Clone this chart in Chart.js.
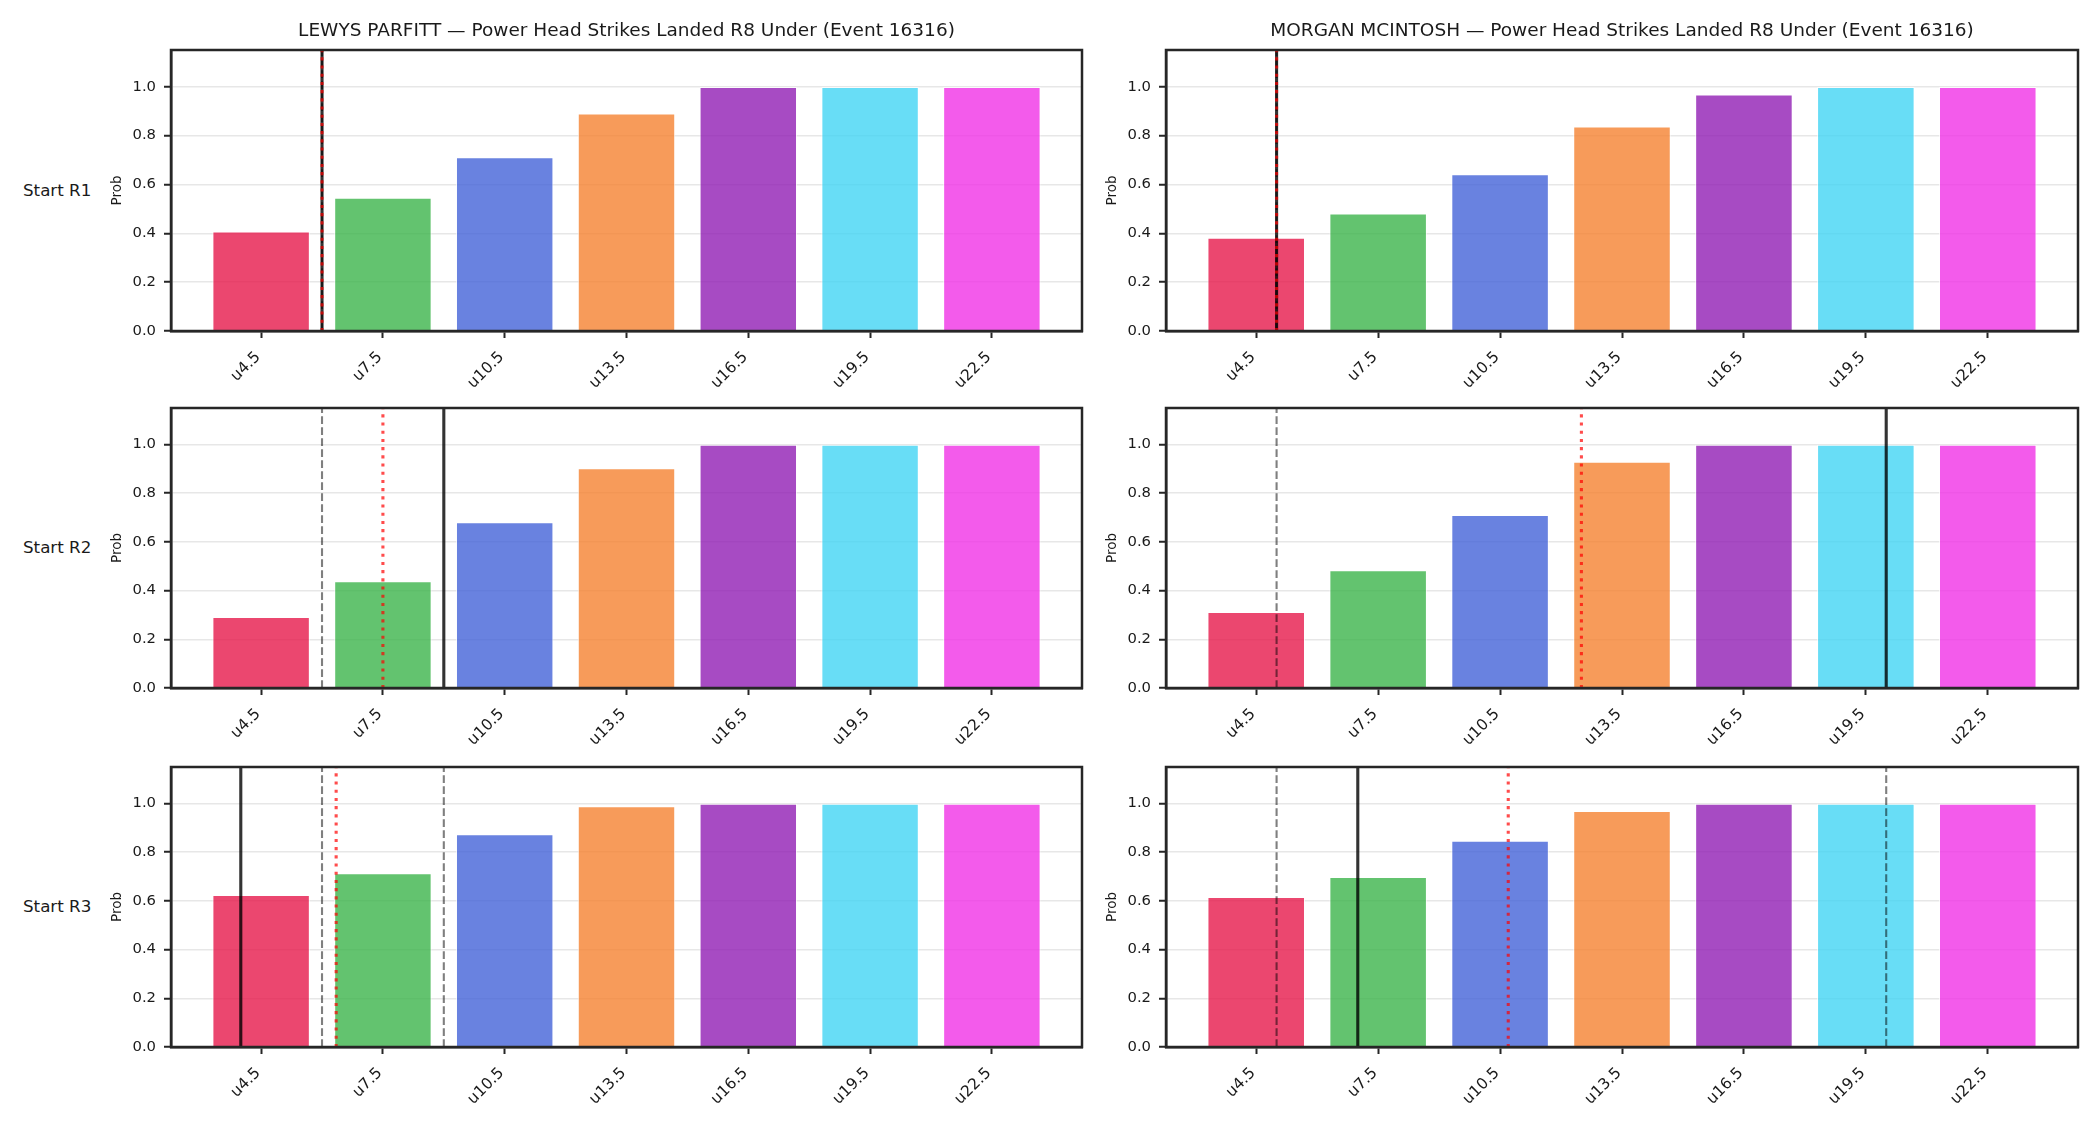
<!DOCTYPE html>
<html>
<head>
<meta charset="utf-8">
<script src="https://cdn.jsdelivr.net/npm/chart.js@4.4.1/dist/chart.umd.min.js"></script>
<style>
  html, body { margin: 0; padding: 0; background: #fff; }
  body { width: 2100px; height: 1125px; position: relative; overflow: hidden; font-family: "DejaVu Sans", sans-serif; }
  canvas { position: absolute; }
  .row-label { position: absolute; font-size: 16.7px; line-height: 20px; color: #1a1a1a; white-space: nowrap; }
</style>
</head>
<body>
<script>
/* global Chart */

// ---------------------- Data ----------------------

const CATEGORIES = ["u4.5", "u7.5", "u10.5", "u13.5", "u16.5", "u19.5", "u22.5"];
const Y_TICKS = [0, 0.2, 0.4, 0.6, 0.8, 1.0];
const ROW_LABELS = ["Start R1", "Start R2", "Start R3"];
const PLAYERS = ["LEWYS PARFITT", "MORGAN MCINTOSH"];
const MARKET = "Power Head Strikes Landed R8 Under (Event 16316)";

const BAR_COLORS = [
  "rgba(230, 25, 75, 0.8)",
  "rgba(60, 180, 75, 0.8)",
  "rgba(67, 99, 216, 0.8)",
  "rgba(245, 130, 49, 0.8)",
  "rgba(145, 30, 180, 0.8)",
  "rgba(66, 212, 244, 0.8)",
  "rgba(240, 50, 230, 0.8)"
];

const PARFITT_R1 = [0.407, 0.545, 0.711, 0.890, 0.999, 0.999, 0.999];
const PARFITT_R2 = [0.292, 0.438, 0.681, 0.903, 0.999, 0.999, 0.999];
const PARFITT_R3 = [0.624, 0.714, 0.874, 0.989, 0.999, 0.999, 0.999];

const MCINTOSH_R1 = [0.382, 0.481, 0.641, 0.837, 0.968, 0.999, 0.999];
const MCINTOSH_R2 = [0.312, 0.484, 0.711, 0.929, 0.999, 0.999, 0.999];
const MCINTOSH_R3 = [0.616, 0.698, 0.847, 0.969, 0.999, 0.999, 0.999];

// vertical markers per start round, in category-index units on the x axis
const PARFITT_SOLID = [0.5, 1.5, -0.167];
const PARFITT_DOTTED = [0.5, 1.0, 0.616];
const PARFITT_DASHED = [[0.5], [0.5], [0.5, 1.5]];

const MCINTOSH_SOLID = [0.167, 5.167, 0.833];
const MCINTOSH_DOTTED = [0.167, 2.667, 2.067];
const MCINTOSH_DASHED = [[0.167], [0.167], [0.167, 5.167]];

// ---------------------- Layout & style ----------------------

const COLS = [[171, 1082], [1166, 2078]];
const ROWS = [[50, 331], [408, 688], [767, 1047]];
const Y_AXIS_W = 70;
const X_AXIS_H = 75;
const TOP_SPACE = 50;
const RIGHT_PAD = 8;

const SPINE = "#262626";
const TEXT = "#1a1a1a";
const GRID = "rgba(176, 176, 176, 0.3)";

Chart.defaults.font.family = "'DejaVu Sans', sans-serif";
Chart.defaults.color = TEXT;

// markers + full frame, drawn after grid so they sit on top like matplotlib lines
const markersPlugin = {
  id: "markers",
  afterDraw(chart, _args, opts) {
    const { ctx, chartArea: a, scales: { x } } = chart;
    ctx.save();
    ctx.beginPath();
    ctx.rect(a.left, a.top, a.width, a.height);
    ctx.clip();
    const vline = (v, color, width, dash) => {
      const px = x.getPixelForValue(v);
      ctx.strokeStyle = color;
      ctx.lineWidth = width;
      ctx.setLineDash(dash);
      ctx.beginPath();
      ctx.moveTo(px, a.bottom);
      ctx.lineTo(px, a.top);
      ctx.stroke();
    };
    (opts.dashed || []).forEach(v => vline(v, "rgba(0, 0, 0, 0.5)", 2.1, [7.7, 3.3]));
    vline(opts.solid, "rgba(0, 0, 0, 0.8)", 3.1, []);
    vline(opts.dotted, "rgba(255, 0, 0, 0.7)", 3.1, [3.1, 5.1]);
    ctx.restore();

    ctx.save();
    ctx.strokeStyle = SPINE;
    ctx.lineWidth = 2.5;
    ctx.setLineDash([]);
    ctx.strokeRect(a.left, a.top, a.width, a.height);
    ctx.restore();
  }
};

function makeCanvas(col, row) {
  const [x0, x1] = COLS[col];
  const [y0, y1] = ROWS[row];
  const c = document.createElement("canvas");
  const w = Y_AXIS_W + (x1 - x0) + RIGHT_PAD;
  const h = TOP_SPACE + (y1 - y0) + X_AXIS_H;
  c.width = w;
  c.height = h;
  c.style.left = (x0 - Y_AXIS_W) + "px";
  c.style.top = (y0 - TOP_SPACE) + "px";
  c.style.width = w + "px";
  c.style.height = h + "px";
  document.body.appendChild(c);
  return c;
}

function drawPanel(canvas, { values, title, solid, dotted, dashed }) {
  new Chart(canvas.getContext("2d"), {
    type: "bar",
    data: {
      datasets: [{
        data: values.map((v, i) => ({ x: i, y: v })),
        backgroundColor: BAR_COLORS,
        borderColor: "rgba(255, 255, 255, 0.7)",
        borderWidth: 1,
        barPercentage: 1,
        categoryPercentage: 0.8
      }]
    },
    options: {
      responsive: false,
      animation: false,
      devicePixelRatio: 1,
      layout: { padding: { top: title ? 0 : TOP_SPACE, right: RIGHT_PAD, left: 0, bottom: 0 } },
      plugins: {
        legend: { display: false },
        tooltip: { enabled: false },
        title: {
          display: !!title,
          text: title,
          fullSize: false,
          color: TEXT,
          font: { size: 18.5, weight: "normal" },
          padding: { top: 20.3, bottom: 7.5 }
        },
        markers: { solid, dotted, dashed }
      },
      scales: {
        x: {
          type: "linear",
          min: -0.74,
          max: 6.74,
          offset: false,
          afterFit: (s) => { s.height = X_AXIS_H; },
          afterBuildTicks: (s) => { s.ticks = CATEGORIES.map((_, i) => ({ value: i })); },
          ticks: {
            callback: (v) => CATEGORIES[v],
            autoSkip: false,
            maxRotation: 45,
            minRotation: 45,
            labelOffset: -3,
            padding: 10,
            font: { size: 15.5 },
            color: TEXT
          },
          grid: { drawOnChartArea: false, offset: false, tickLength: 7, tickWidth: 2, tickColor: SPINE },
          border: { color: SPINE, width: 2.5 }
        },
        y: {
          min: 0,
          max: 1.15,
          z: 1,
          afterFit: (s) => { s.width = Y_AXIS_W; },
          afterBuildTicks: (s) => { s.ticks = Y_TICKS.map(v => ({ value: v })); },
          ticks: { callback: (v) => v.toFixed(1), padding: 8, font: { size: 14.8 }, color: TEXT },
          grid: { color: GRID, lineWidth: 1.5, tickLength: 7, tickWidth: 2, tickColor: SPINE },
          border: { color: SPINE, width: 2.5 },
          title: { display: true, text: "Prob", color: TEXT, font: { size: 13.5 }, padding: { top: 8, bottom: 0 } }
        }
      }
    },
    plugins: [markersPlugin]
  });
}

// ---------------------- Build grid ----------------------

const PANELS = [
  [
    { values: PARFITT_R1, solid: PARFITT_SOLID[0], dotted: PARFITT_DOTTED[0], dashed: PARFITT_DASHED[0] },
    { values: PARFITT_R2, solid: PARFITT_SOLID[1], dotted: PARFITT_DOTTED[1], dashed: PARFITT_DASHED[1] },
    { values: PARFITT_R3, solid: PARFITT_SOLID[2], dotted: PARFITT_DOTTED[2], dashed: PARFITT_DASHED[2] }
  ],
  [
    { values: MCINTOSH_R1, solid: MCINTOSH_SOLID[0], dotted: MCINTOSH_DOTTED[0], dashed: MCINTOSH_DASHED[0] },
    { values: MCINTOSH_R2, solid: MCINTOSH_SOLID[1], dotted: MCINTOSH_DOTTED[1], dashed: MCINTOSH_DASHED[1] },
    { values: MCINTOSH_R3, solid: MCINTOSH_SOLID[2], dotted: MCINTOSH_DOTTED[2], dashed: MCINTOSH_DASHED[2] }
  ]
];

PANELS.forEach((rows, col) => {
  rows.forEach((panel, row) => {
    const title = row === 0 ? `${PLAYERS[col]} — ${MARKET}` : "";
    drawPanel(makeCanvas(col, row), { ...panel, title });
  });
});

ROW_LABELS.forEach((label, row) => {
  const d = document.createElement("div");
  d.className = "row-label";
  d.textContent = label;
  d.style.left = "23px";
  d.style.top = ((ROWS[row][0] + ROWS[row][1]) / 2 - 11) + "px";
  document.body.appendChild(d);
});
</script>
</body>
</html>
